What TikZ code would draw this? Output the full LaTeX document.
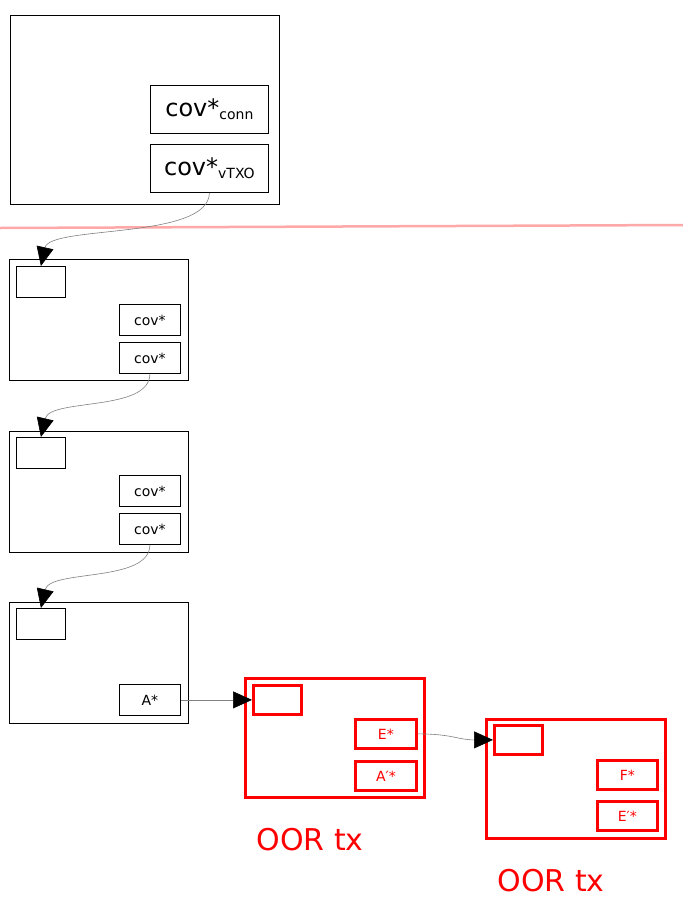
\documentclass[tikz,border=0pt]{standalone}
\usepackage{fontspec}
\setmainfont{DejaVu Sans}
\usetikzlibrary{arrows.meta}
\definecolor{cutline}{HTML}{FFA8A8}
\newcommand{\covsub}[1]{\raisebox{-3pt}{\fontsize{14}{14}\selectfont #1}}
\tikzset{
  tx/.style={draw, line width=0.8pt, anchor=north west, inner sep=0pt},
  slot/.style={tx, minimum width=49pt, minimum height=31pt},
  cov/.style={tx, minimum width=61pt, minimum height=31pt, font=\fontsize{14}{14}\selectfont},
  bigcov/.style={tx, minimum width=118pt, minimum height=48pt, font=\fontsize{24}{24}\selectfont},
  oor/.style={red, line width=2.8pt},
  oorcov/.style={cov, oor, minimum width=61pt, minimum height=29pt, font=\fontsize{14}{14}\selectfont},
  spend/.style={gray, line width=0.6pt, -{Triangle[length=19pt, width=17pt, color=black, fill=black]}},
}

\begin{document}
\begin{tikzpicture}[x=1pt, y=1pt]
  \useasboundingbox (0,0) rectangle (683,-908);
  % vTXO
  \node[tx, minimum width=269pt, minimum height=189pt] (vtxo) at (10,-15) {};
  \node[bigcov] (conn) at (150,-85) {cov*\covsub{conn}};
  \node[bigcov] (vcov) at (150,-144) {cov*\covsub{vTXO}};
  \coordinate (cutl) at (0,-228); \coordinate (cutr) at (683,-225);
  \draw[cutline, line width=2.5pt] (cutl) -- (cutr);
  % chain
  \node[tx, minimum width=179pt, minimum height=121pt] (t1) at (9,-259) {};
  \node[slot] (s1) at (16,-266) {};
  \node[cov] (c1a) at (119,-304) {cov*};
  \node[cov] (c1b) at (119,-342) {cov*};
  \node[tx, minimum width=179pt, minimum height=121pt] (t2) at (9,-431) {};
  \node[slot] (s2) at (16,-437) {};
  \node[cov] (c2a) at (119,-475) {cov*};
  \node[cov] (c2b) at (119,-513) {cov*};
  \node[tx, minimum width=179pt, minimum height=121pt] (t3) at (9,-602) {};
  \node[slot] (s3) at (16,-608) {};
  \node[cov] (c3) at (119,-684) {A*};
  % OOR
  \node[tx, oor, minimum width=179pt, minimum height=119pt] (o1) at (244,-677) {};
  \node[slot, oor, minimum width=48pt, minimum height=29pt] (os1) at (252,-684) {};
  \node[oorcov] (e1) at (354,-718) {E*};
  \node[oorcov] (a1) at (354,-760) {A′*};
  \node[tx, oor, minimum width=179pt, minimum height=119pt] (o2) at (485,-718) {};
  \node[slot, oor, minimum width=48pt, minimum height=29pt] (os2) at (493,-724) {};
  \node[oorcov, minimum width=60pt] (f2) at (596,-759) {F*};
  \node[oorcov, minimum width=60pt] (e2) at (596,-800) {E′*};
  \node[red, font=\fontsize{30}{30}\selectfont] (lbl1) at (310,-840) {OOR tx};
  \node[red, font=\fontsize{30}{30}\selectfont] (lbl2) at (551,-881) {OOR tx};
  % spends
  \draw[spend] (vcov.south) .. controls (209,-240) and (50,-225) .. (s1.north);
  \draw[spend] (c1b.south) .. controls (150,-412) and (50,-398) .. (s2.north);
  \draw[spend] (c2b.south) .. controls (150,-583) and (50,-569) .. (s3.north);
  \draw[spend] (c3.east) -- (os1.west);
  \draw[spend] (e1.east) .. controls +(35,0) and +(-35,0) .. (os2.west);
\end{tikzpicture}
\end{document}
